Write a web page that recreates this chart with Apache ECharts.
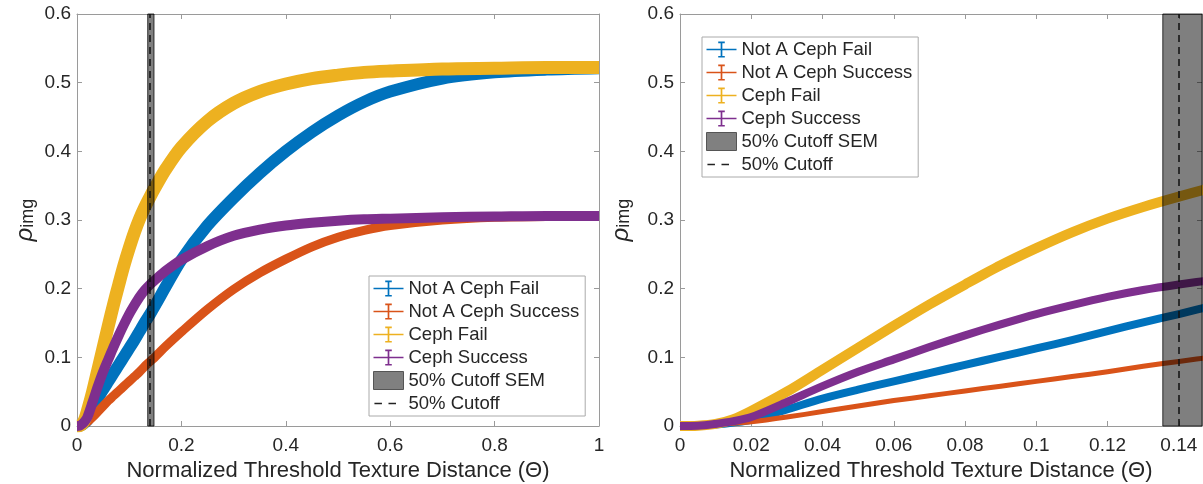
<!DOCTYPE html>
<html>
<head>
<meta charset="utf-8">
<script src="https://cdn.jsdelivr.net/npm/echarts@6/dist/echarts.min.js"></script>
<style>
  html, body { margin: 0; padding: 0; background: #ffffff; }
  #chart { width: 1203px; height: 484px; }
</style>
</head>
<body>
<div id="chart"></div>
<script>
// Normalized threshold texture distance (Θ) sample points
const theta = [0, 0.005, 0.01, 0.015, 0.02, 0.03, 0.04, 0.05, 0.06, 0.07, 0.08, 0.09, 0.10,
  0.11, 0.12, 0.13, 0.14, 0.15, 0.17, 0.20, 0.25, 0.30, 0.35, 0.40, 0.45, 0.50, 0.55, 0.60,
  0.70, 0.80, 0.90, 1.00];

// Mean rho_img per group
const notCephFail = [0, 0.0003, 0.002, 0.005, 0.009, 0.024, 0.040, 0.053, 0.065, 0.077, 0.089,
  0.101, 0.113, 0.125, 0.138, 0.151, 0.163, 0.176, 0.203, 0.242, 0.292, 0.332, 0.368, 0.400,
  0.428, 0.452, 0.472, 0.487, 0.506, 0.515, 0.519, 0.521];
const notCephSuccess = [0, 0.0002, 0.002, 0.004, 0.006, 0.013, 0.021, 0.029, 0.037, 0.044,
  0.051, 0.058, 0.065, 0.072, 0.079, 0.087, 0.094, 0.101, 0.116, 0.137, 0.170, 0.199, 0.223,
  0.243, 0.261, 0.275, 0.285, 0.292, 0.300, 0.304, 0.305, 0.306];
const cephFail = [0, 0.0005, 0.003, 0.010, 0.022, 0.050, 0.082, 0.114, 0.146, 0.177, 0.206,
  0.234, 0.259, 0.282, 0.302, 0.319, 0.334, 0.348, 0.374, 0.406, 0.444, 0.470, 0.487, 0.498,
  0.506, 0.511, 0.515, 0.517, 0.520, 0.521, 0.522, 0.522];
const cephSuccess = [0, 0.0003, 0.003, 0.007, 0.013, 0.035, 0.058, 0.079, 0.097, 0.115, 0.132,
  0.148, 0.163, 0.176, 0.188, 0.198, 0.206, 0.213, 0.226, 0.242, 0.262, 0.277, 0.286, 0.292,
  0.296, 0.299, 0.301, 0.302, 0.304, 0.305, 0.306, 0.306];

// 50% cutoff and its standard error
const cutoff = [0.1415];
const cutoffSem = [0.006];

const groupNames = ['Not A Ceph Fail', 'Not A Ceph Success', 'Ceph Fail', 'Ceph Success'];
const groupValues = [notCephFail, notCephSuccess, cephFail, cephSuccess];
const bandName = '50% Cutoff SEM';
const cutoffName = '50% Cutoff';

// Per-panel x ranges and tick steps
const panelXMax = [1, 0.1465];
const panelXStep = [0.2, 0.02];
const yMin = 0, yMax = 0.6, yStep = 0.1;

const colors = ['#0072BD', '#D95319', '#EDB120', '#7E2F8E'];
const lineWidths = [[12, 9, 13, 10], [8, 5, 10, 8]];
const FONT = '"Liberation Sans", Arial, Helvetica, sans-serif';
const TEXT = '#262626';
const AXIS = '#9a9a9a';

const grids = [
  { left: 77, top: 14, width: 522, height: 412, outerBoundsMode: 'none', containLabel: false },
  { left: 680, top: 14, width: 522, height: 412, outerBoundsMode: 'none', containLabel: false }
];

const xAxes = [], yAxes = [], series = [];

grids.forEach((g, i) => {
  const common = {
    type: 'value', gridIndex: i, splitLine: { show: false },
    axisLine: { show: true, onZero: false, lineStyle: { color: AXIS, width: 1 } },
    axisTick: { show: true, inside: true, length: 5, lineStyle: { color: AXIS } }
  };
  // bottom x axis with labels and title
  xAxes.push(Object.assign({}, common, {
    position: 'bottom', min: 0, max: panelXMax[i], interval: panelXStep[i],
    axisLabel: { show: true, margin: 10, color: TEXT, fontFamily: FONT, fontSize: 19, showMaxLabel: i === 0 },
    name: 'Normalized Threshold Texture Distance (Θ)', nameLocation: 'middle', nameGap: 34,
    nameTextStyle: { color: TEXT, fontFamily: FONT, fontSize: 22 }
  }));
  // top x axis (box edge)
  xAxes.push(Object.assign({}, common, {
    position: 'top', min: 0, max: panelXMax[i], interval: panelXStep[i],
    axisLabel: { show: false }
  }));
  // left y axis
  yAxes.push(Object.assign({}, common, {
    position: 'left', min: yMin, max: yMax, interval: yStep,
    axisLabel: { show: true, margin: 6, color: TEXT, fontFamily: FONT, fontSize: 19 },
    name: '{r|ρ}{s|img}', nameLocation: 'middle', nameRotate: 90, nameGap: i === 0 ? 40 : 47,
    nameTextStyle: {
      color: TEXT, fontFamily: FONT,
      rich: {
        r: { fontSize: 24, fontStyle: 'italic', fontFamily: FONT, color: TEXT, lineHeight: 24, verticalAlign: 'top' },
        s: { fontSize: 18, fontFamily: FONT, color: TEXT, lineHeight: 18, padding: [11, 0, 0, 0], verticalAlign: 'bottom' }
      }
    }
  }));
  // right y axis (box edge)
  yAxes.push(Object.assign({}, common, {
    position: 'right', min: yMin, max: yMax, interval: yStep,
    axisLabel: { show: false }
  }));

  const xi = i * 2, yi = i * 2;
  groupNames.forEach((name, k) => {
    series.push({
      type: 'line', name: name, xAxisIndex: xi, yAxisIndex: yi,
      data: theta.map((t, j) => [t, groupValues[k][j]]),
      smooth: 0.3, showSymbol: false, symbol: 'none', clip: true, z: 2,
      itemStyle: { color: colors[k] },
      lineStyle: { color: colors[k], width: lineWidths[i][k], cap: 'butt', join: 'round' }
    });
  });

  // SEM band around the 50% cutoff
  series.push({
    type: 'custom', name: bandName, xAxisIndex: xi, yAxisIndex: yi, z: 4,
    data: cutoff.map((c, k) => [c - cutoffSem[k], c + cutoffSem[k]]),
    encode: { x: [0, 1] },
    itemStyle: { color: '#808080' },
    renderItem: function (params, api) {
      const cs = params.coordSys;
      const x0 = api.coord([api.value(0), yMin])[0];
      const x1 = api.coord([api.value(1), yMin])[0];
      const rect = echarts.graphic.clipRectByRect(
        { x: x0, y: cs.y, width: x1 - x0, height: cs.height },
        { x: cs.x, y: cs.y, width: cs.width, height: cs.height });
      if (!rect) return null;
      return {
        type: 'rect', shape: rect,
        style: { fill: 'rgba(0,0,0,0.5)', stroke: 'rgba(0,0,0,0.75)', lineWidth: 1 }
      };
    }
  });

  // 50% cutoff dashed line
  series.push({
    type: 'line', name: cutoffName, xAxisIndex: xi, yAxisIndex: yi, z: 5,
    data: [], symbol: 'none',
    itemStyle: { color: '#111' },
    lineStyle: { color: '#111', width: 1.5, type: [7, 5] },
    markLine: {
      silent: true, symbol: ['none', 'none'], label: { show: false },
      lineStyle: { color: '#111', width: 1.5, type: [7, 5] },
      data: cutoff.map(c => ({ xAxis: c }))
    }
  });
});

// legend icons: error-bar glyph, grey swatch and dashed line
const errIcon = 'path://M0,0H0.01V0.01H0Z M32,18H31.99V17.99H32Z M0,8.1H32V9.9H0Z M15.1,0.5H16.9V17.5H15.1Z M12.5,0.5H19.5V2.2H12.5Z M12.5,15.8H19.5V17.5H12.5Z';
const dashIcon = 'path://M0,0H0.01V0.01H0Z M32,18H31.99V17.99H32Z M1,8.2H9V9.8H1Z M16,8.2H24V9.8H16Z';

function legendData() {
  return groupNames.map(n => ({ name: n, icon: errIcon }))
    .concat([
      { name: bandName, icon: 'rect', itemStyle: { color: '#808080', borderColor: '#555', borderWidth: 1 } },
      { name: cutoffName, icon: dashIcon, itemStyle: { color: '#222' } }
    ]);
}

const legendCommon = {
  orient: 'vertical', selectedMode: false,
  itemWidth: 30, itemHeight: 18, itemGap: 4,
  padding: [3, 6, 3, 4],
  backgroundColor: '#ffffff', borderColor: '#aaaaaa', borderWidth: 1,
  itemStyle: { borderWidth: 0 },
  textStyle: { color: TEXT, fontFamily: FONT, fontSize: 18.5, lineHeight: 18 }
};

const option = {
  animation: false,
  backgroundColor: '#ffffff',
  grid: grids,
  xAxis: xAxes,
  yAxis: yAxes,
  legend: [
    Object.assign({}, legendCommon, { left: 369, top: 276, data: legendData() }),
    Object.assign({}, legendCommon, { left: 702, top: 37, data: legendData() })
  ],
  series: series
};

const chart = echarts.init(document.getElementById('chart'), null, { renderer: 'canvas' });
chart.setOption(option);
</script>
</body>
</html>
